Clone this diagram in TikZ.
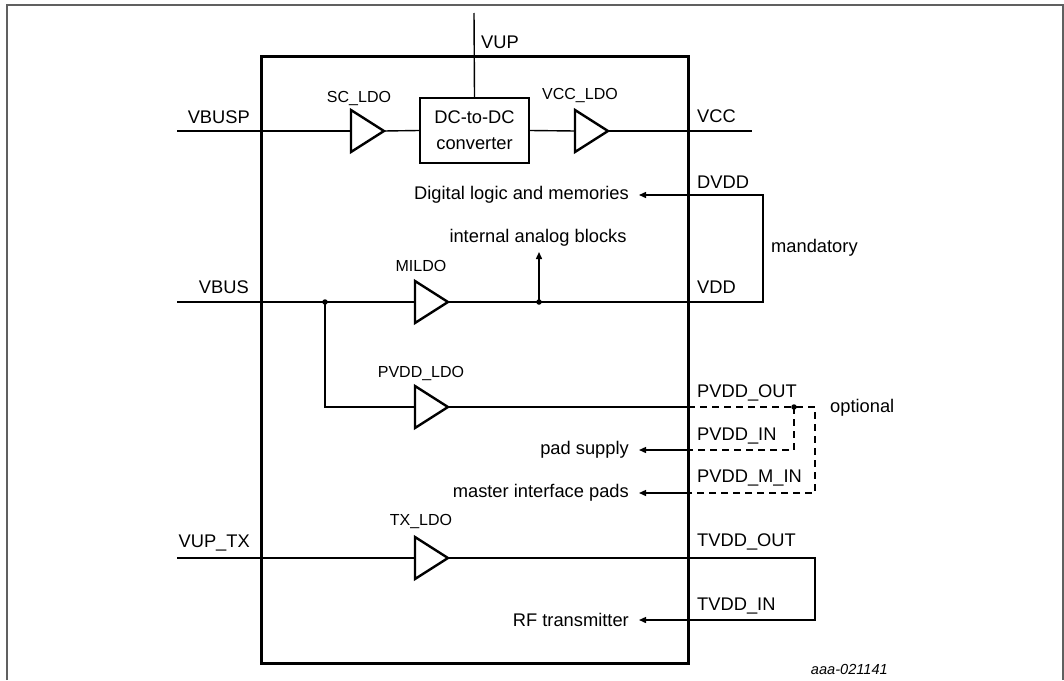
\documentclass[tikz,border=0pt]{standalone}
\usepackage{fontspec}
\setmainfont{Liberation Sans}
\usetikzlibrary{shapes.geometric,arrows.meta}
\begin{document}
\begin{tikzpicture}[x=1pt,y=-1pt,
  wire/.style={line width=1.4pt},
  dwire/.style={line width=1.4pt,dash pattern=on 7pt off 5pt},
  arr/.style={wire,-{Triangle[length=7pt,width=6pt]},shorten >=10pt},
  tri/.style={draw,line width=2.4pt,isosceles triangle,isosceles triangle stretches,
    minimum width=42pt,minimum height=33pt,inner sep=0pt,outer sep=0pt,shape border rotate=0},
  lbl/.style={inner sep=0pt,font=\fontsize{18.3}{21}\selectfont},
  slbl/.style={inner sep=0pt,font=\fontsize{16}{19}\selectfont},
  dot/.style={circle,fill,inner sep=0pt,minimum size=5.5pt}]
\useasboundingbox (0,0) rectangle (1064,680);
% frame
\draw[line width=1.5pt,gray!75!black] (7,680) -- (7,5) -- (1063,5) -- (1063,680);
% chip outline
\node[draw,line width=3pt,minimum width=427pt,minimum height=607pt,inner sep=0pt] (chip) at (474.5,359.5) {};
% coordinates
\coordinate (vbuspin) at (177,131);
\coordinate (vbusin) at (177,302);
\coordinate (vuptxin) at (177,558);
\coordinate (vuptop) at (474,13);
\coordinate (vccout) at (752,131);
\coordinate (dvddc) at (763,195);
\coordinate (vddc) at (763,302);
\coordinate (pvb) at (688,407);
\coordinate (pvr) at (815,407);
\coordinate (pvmr) at (815,493);
\coordinate (pvmb) at (688,493);
\coordinate (pvinr) at (794,450);
\coordinate (pvinb) at (688,450);
\coordinate (tvr) at (815,558);
\coordinate (tvir) at (815,620);
% blocks
\node[tri] (sc) at (362.5,131) {};
\node[draw,line width=2.4pt,minimum width=109pt,minimum height=65pt,inner sep=0pt,
  align=center,font=\fontsize{18.3}{26}\selectfont] (dc) at (474.5,130.5) {DC-to-DC\\converter};
\node[tri] (vccldo) at (586.5,131) {};
\node[tri] (mildo) at (426.5,302) {};
\node[tri] (pvddldo) at (426.5,407) {};
\node[tri] (txldo) at (426.5,558) {};
\node[dot] (j1) at (325,302) {};
\node[dot] (j2) at (539,302) {};
\node[dot] (j3) at (794,407) {};
% labels
\node[lbl,anchor=west] (vup) at (481,42) {VUP};
\node[lbl,anchor=east] (vbusp) at (250,117) {VBUSP};
\node[lbl,anchor=east] (vbus) at (249,287) {VBUS};
\node[lbl,anchor=east] (vuptx) at (250,543) {VUP\_TX};
\node[slbl] (scl) at (359,99) {SC\_LDO};
\node[slbl] (vccl) at (580,96) {VCC\_LDO};
\node[slbl] (mil) at (421,266) {MILDO};
\node[slbl] (pvl) at (421,373) {PVDD\_LDO};
\node[slbl] (txl) at (421,521) {TX\_LDO};
\node[lbl,anchor=west] (vcc) at (697,116) {VCC};
\node[lbl,anchor=west] (dvdd) at (697,182) {DVDD};
\node[lbl,anchor=west] (vdd) at (697,287) {VDD};
\node[lbl,anchor=west] (mand) at (771,248) {mandatory};
\node[lbl,anchor=west] (pvout) at (697,393) {PVDD\_OUT};
\node[lbl,anchor=west] (pvin) at (697,436) {PVDD\_IN};
\node[lbl,anchor=west] (pvmin) at (697,478) {PVDD\_M\_IN};
\node[lbl,anchor=west] (opt) at (830,408) {optional};
\node[lbl,anchor=west] (tvout) at (697,542) {TVDD\_OUT};
\node[lbl,anchor=west] (tvin) at (697,606) {TVDD\_IN};
\node[lbl,anchor=east] (digital) at (629,195) {Digital logic and memories};
\node[lbl] (analog) at (538,238) {internal analog blocks};
\node[lbl,anchor=east] (pad) at (629,450) {pad supply};
\node[lbl,anchor=east] (master) at (629,493) {master interface pads};
\node[lbl,anchor=east] (rf) at (629,620) {RF transmitter};
\node[inner sep=0pt,anchor=east,font=\fontsize{14.6}{17}\selectfont\itshape] (code) at (888,669) {aaa-021141};
% wires
\draw[wire] (vbuspin) -- (sc.west);
\draw[wire] (sc.east) -- (dc.west);
\draw[wire] (dc.east) -- (vccldo.west);
\draw[wire] (vccldo.east) -- (vccout);
\draw[wire] (vuptop) -- (dc.north);
\draw[wire] (vbusin) -- (mildo.west);
\draw[wire] (j1.center) |- (pvddldo.west);
\draw[arr] (mildo.east) -- (vddc) -- (dvddc) -- (digital.east);
\draw[wire,-{Triangle[length=7pt,width=6pt]}] (j2.center) -- (539,252);
\draw[wire] (pvddldo.east) -- (pvb);
\draw[dwire] (pvb) -- (pvr) -- (pvmr) -- (pvmb);
\draw[dwire] (j3.center) |- (pvinb);
\draw[arr] (pvinb) -- (pad.east);
\draw[arr] (pvmb) -- (master.east);
\draw[wire] (vuptxin) -- (txldo.west);
\draw[arr] (txldo.east) -- (tvr) -- (tvir) -- (rf.east);
\end{tikzpicture}
\end{document}
